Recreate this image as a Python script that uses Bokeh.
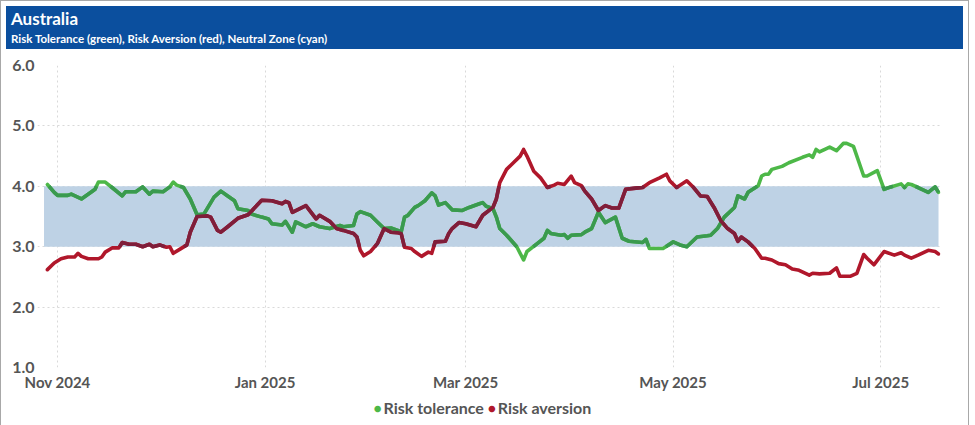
import numpy as np
from bokeh.plotting import figure
from bokeh.layouts import column
from bokeh.models import Range1d, FixedTicker, Div
from bokeh.embed import file_html
from bokeh.resources import INLINE

TITLE = "Australia"
SUBTITLE = "Risk Tolerance (green), Risk Aversion (red), Neutral Zone (cyan)"

tolerance_dates = [
    "2024-10-29", "2024-10-31", "2024-11-01", "2024-11-04", "2024-11-05", "2024-11-08",
    "2024-11-11", "2024-11-12", "2024-11-13", "2024-11-15", "2024-11-17", "2024-11-20",
    "2024-11-21", "2024-11-24", "2024-11-26", "2024-11-28", "2024-11-29", "2024-12-02",
    "2024-12-04", "2024-12-05", "2024-12-06", "2024-12-08", "2024-12-10", "2024-12-12",
    "2024-12-14", "2024-12-17", "2024-12-19", "2024-12-21", "2024-12-23", "2024-12-24",
    "2024-12-27", "2024-12-28", "2024-12-31", "2025-01-02", "2025-01-03", "2025-01-06",
    "2025-01-07", "2025-01-09", "2025-01-10", "2025-01-13", "2025-01-15", "2025-01-17",
    "2025-01-20", "2025-01-23", "2025-01-24", "2025-01-27", "2025-01-28", "2025-01-29",
    "2025-02-01", "2025-02-03", "2025-02-05", "2025-02-07", "2025-02-09", "2025-02-10",
    "2025-02-11", "2025-02-12", "2025-02-14", "2025-02-15", "2025-02-17", "2025-02-19",
    "2025-02-20", "2025-02-21", "2025-02-23", "2025-02-25", "2025-02-28", "2025-03-02",
    "2025-03-05", "2025-03-06", "2025-03-07", "2025-03-09", "2025-03-10", "2025-03-11",
    "2025-03-13", "2025-03-16", "2025-03-18", "2025-03-19", "2025-03-22", "2025-03-24",
    "2025-03-25", "2025-03-26", "2025-03-29", "2025-03-30", "2025-03-31", "2025-04-01",
    "2025-04-04", "2025-04-05", "2025-04-07", "2025-04-09", "2025-04-11", "2025-04-14",
    "2025-04-16", "2025-04-18", "2025-04-22", "2025-04-23", "2025-04-24", "2025-04-28",
    "2025-05-01", "2025-05-03", "2025-05-05", "2025-05-08", "2025-05-11", "2025-05-12",
    "2025-05-14", "2025-05-16", "2025-05-19", "2025-05-20", "2025-05-22", "2025-05-23",
    "2025-05-26", "2025-05-27", "2025-05-28", "2025-05-29", "2025-05-30", "2025-06-02",
    "2025-06-04", "2025-06-08", "2025-06-10", "2025-06-11", "2025-06-12", "2025-06-13",
    "2025-06-16", "2025-06-18", "2025-06-20", "2025-06-21", "2025-06-23", "2025-06-26",
    "2025-06-27", "2025-06-30", "2025-07-02", "2025-07-04", "2025-07-07", "2025-07-08",
    "2025-07-09", "2025-07-10", "2025-07-12", "2025-07-15", "2025-07-17", "2025-07-18",
]
tolerance_values = [
    4.03, 3.90, 3.85, 3.85, 3.87, 3.79,
    3.91, 3.95, 4.07, 4.07, 3.98, 3.84,
    3.91, 3.91, 3.99, 3.87, 3.92, 3.91,
    3.99, 4.07, 4.02, 3.98, 3.79, 3.53,
    3.54, 3.82, 3.92, 3.84, 3.76, 3.63,
    3.60, 3.54, 3.49, 3.46, 3.38, 3.36,
    3.42, 3.24, 3.41, 3.33, 3.38, 3.33,
    3.30, 3.35, 3.33, 3.35, 3.54, 3.58,
    3.52, 3.41, 3.30, 3.31, 3.27, 3.24,
    3.49, 3.52, 3.65, 3.68, 3.76, 3.89,
    3.84, 3.69, 3.73, 3.61, 3.60, 3.65,
    3.71, 3.73, 3.67, 3.63, 3.49, 3.30,
    3.19, 3.00, 2.78, 2.92, 3.05, 3.14,
    3.27, 3.22, 3.19, 3.20, 3.14, 3.19,
    3.20, 3.24, 3.30, 3.57, 3.40, 3.49,
    3.14, 3.09, 3.07, 3.12, 2.97, 2.97,
    3.08, 3.03, 3.00, 3.16, 3.18, 3.19,
    3.30, 3.49, 3.65, 3.84, 3.79, 3.90,
    4.01, 4.17, 4.20, 4.20, 4.28, 4.33,
    4.39, 4.48, 4.52, 4.48, 4.61, 4.57,
    4.65, 4.59, 4.71, 4.71, 4.66, 4.17,
    4.17, 4.26, 3.95, 3.99, 4.04, 3.98,
    4.04, 4.03, 3.98, 3.90, 3.99, 3.90,
]

aversion_dates = [
    "2024-10-29", "2024-10-31", "2024-11-02", "2024-11-04", "2024-11-06", "2024-11-07",
    "2024-11-08", "2024-11-10", "2024-11-13", "2024-11-14", "2024-11-15", "2024-11-17",
    "2024-11-19", "2024-11-20", "2024-11-22", "2024-11-24", "2024-11-26", "2024-11-28",
    "2024-11-29", "2024-12-01", "2024-12-03", "2024-12-04", "2024-12-05", "2024-12-07",
    "2024-12-09", "2024-12-10", "2024-12-12", "2024-12-15", "2024-12-16", "2024-12-18",
    "2024-12-19", "2024-12-21", "2024-12-24", "2024-12-27", "2024-12-29", "2024-12-31",
    "2025-01-03", "2025-01-06", "2025-01-07", "2025-01-08", "2025-01-09", "2025-01-13",
    "2025-01-16", "2025-01-17", "2025-01-20", "2025-01-22", "2025-01-24", "2025-01-27",
    "2025-01-28", "2025-01-29", "2025-01-30", "2025-02-01", "2025-02-03", "2025-02-05",
    "2025-02-07", "2025-02-09", "2025-02-10", "2025-02-11", "2025-02-13", "2025-02-14",
    "2025-02-16", "2025-02-18", "2025-02-19", "2025-02-20", "2025-02-23", "2025-02-24",
    "2025-02-25", "2025-02-27", "2025-03-01", "2025-03-04", "2025-03-06", "2025-03-09",
    "2025-03-10", "2025-03-11", "2025-03-13", "2025-03-15", "2025-03-17", "2025-03-18",
    "2025-03-19", "2025-03-21", "2025-03-23", "2025-03-25", "2025-03-27", "2025-03-28",
    "2025-03-30", "2025-04-01", "2025-04-02", "2025-04-04", "2025-04-05", "2025-04-07",
    "2025-04-09", "2025-04-11", "2025-04-13", "2025-04-15", "2025-04-17", "2025-04-20",
    "2025-04-22", "2025-04-24", "2025-04-27", "2025-04-29", "2025-04-30", "2025-05-02",
    "2025-05-05", "2025-05-07", "2025-05-09", "2025-05-11", "2025-05-13", "2025-05-15",
    "2025-05-17", "2025-05-19", "2025-05-20", "2025-05-21", "2025-05-23", "2025-05-25",
    "2025-05-27", "2025-05-28", "2025-05-30", "2025-06-01", "2025-06-03", "2025-06-05",
    "2025-06-07", "2025-06-10", "2025-06-11", "2025-06-13", "2025-06-16", "2025-06-18",
    "2025-06-19", "2025-06-22", "2025-06-24", "2025-06-26", "2025-06-27", "2025-06-29",
    "2025-07-02", "2025-07-05", "2025-07-07", "2025-07-08", "2025-07-10", "2025-07-12",
    "2025-07-15", "2025-07-17", "2025-07-18",
]
aversion_values = [
    2.62, 2.73, 2.80, 2.83, 2.83, 2.89,
    2.84, 2.80, 2.80, 2.83, 2.91, 2.98,
    2.98, 3.07, 3.04, 3.04, 3.00, 3.04,
    3.00, 3.03, 2.99, 3.00, 2.89, 2.96,
    3.03, 3.24, 3.50, 3.51, 3.49, 3.27,
    3.24, 3.33, 3.47, 3.53, 3.65, 3.77,
    3.76, 3.71, 3.75, 3.73, 3.57, 3.68,
    3.46, 3.52, 3.42, 3.30, 3.27, 3.22,
    3.16, 2.94, 2.85, 2.92, 3.05, 3.30,
    3.24, 3.23, 3.22, 2.99, 2.97, 2.92,
    2.84, 2.91, 2.89, 3.08, 3.09, 3.22,
    3.30, 3.40, 3.38, 3.33, 3.52, 3.65,
    3.79, 4.06, 4.28, 4.39, 4.50, 4.61,
    4.50, 4.25, 4.14, 3.98, 4.02, 4.05,
    4.03, 4.17, 4.06, 4.01, 3.92, 3.79,
    3.60, 3.68, 3.64, 3.64, 3.95, 3.97,
    3.98, 4.06, 4.14, 4.20, 4.09, 3.98,
    4.09, 3.98, 3.84, 3.83, 3.65, 3.43,
    3.30, 3.22, 3.09, 3.16, 3.08, 2.97,
    2.81, 2.81, 2.78, 2.72, 2.70, 2.63,
    2.61, 2.53, 2.56, 2.55, 2.56, 2.65,
    2.51, 2.51, 2.56, 2.87, 2.81, 2.70,
    2.92, 2.86, 2.90, 2.86, 2.81, 2.86,
    2.94, 2.92, 2.88,
]

neutral_low = 3.0
neutral_high = 4.0
neutral_dates = ["2024-10-28", "2025-07-18"]

x_tick_dates = ["2024-11-01", "2025-01-01", "2025-03-01", "2025-05-01", "2025-07-01"]
x_tick_labels = ["Nov 2024", "Jan 2025", "Mar 2025", "May 2025", "Jul 2025"]
y_ticks = [1, 2, 3, 4, 5, 6]
y_tick_labels = ["1.0", "2.0", "3.0", "4.0", "5.0", "6.0"]
x_window = ["2024-10-26T02:00", "2025-07-18T14:00"]

series_labels = ["Risk tolerance", "Risk aversion"]

GREEN = "#4db848"
GREEN_IN = "#3a9a4f"
RED = "#b0172b"
RED_IN = "#7f1e3a"
BAND = "#bed2e5"
HEADER = "#0b4f9e"
FONT = "Lato"
TEXT_GREY = "#555555"


def to_ms(dates):
    return np.array(dates, dtype="datetime64[ms]").astype("int64").astype(float)


def inside_band(xs, ys, lo, hi):
    out_x, out_y = [], []
    cx, cy = [], []
    for i in range(len(xs) - 1):
        x0, y0, x1, y1 = xs[i], ys[i], xs[i + 1], ys[i + 1]
        if y1 == y0:
            t0, t1 = (0.0, 1.0) if lo <= y0 <= hi else (1.0, 0.0)
        else:
            ta = (lo - y0) / (y1 - y0)
            tb = (hi - y0) / (y1 - y0)
            t0 = max(0.0, min(ta, tb))
            t1 = min(1.0, max(ta, tb))
        if t0 < t1:
            ax, ay = x0 + (x1 - x0) * t0, y0 + (y1 - y0) * t0
            bx, by = x0 + (x1 - x0) * t1, y0 + (y1 - y0) * t1
            if not cx or t0 > 0:
                if cx:
                    out_x.append(cx)
                    out_y.append(cy)
                cx, cy = [ax], [ay]
            cx.append(bx)
            cy.append(by)
            if t1 < 1.0:
                out_x.append(cx)
                out_y.append(cy)
                cx, cy = [], []
        else:
            if cx:
                out_x.append(cx)
                out_y.append(cy)
                cx, cy = [], []
    if cx:
        out_x.append(cx)
        out_y.append(cy)
    return out_x, out_y


W = 957

# ---------- header ----------
header = Div(
    text=(f"<div style='font-family:{FONT};font-weight:bold;font-size:17px;line-height:19px'>{TITLE}</div>"
          f"<div style='font-family:{FONT};font-weight:bold;font-size:11.5px;line-height:13px;margin-top:4px'>{SUBTITLE}</div>"),
    width=W, height=43,
    styles={"background-color": HEADER, "color": "white", "padding": "3px 5px",
            "box-sizing": "border-box"})

# ---------- main chart ----------
xw = to_ms(x_window)
p = figure(frame_width=903, frame_height=302, x_range=Range1d(xw[0], xw[1]), y_range=Range1d(1, 6),
           output_backend="svg", toolbar_location=None,
           min_border_left=36, min_border_right=18, min_border_top=11, min_border_bottom=0,
           outline_line_color=None, background_fill_color="white", border_fill_color="white")

nd = to_ms(neutral_dates)
p.quad(left=[nd[0]], right=[nd[1]], bottom=[neutral_low], top=[neutral_high],
       fill_color=BAND, line_color=None)

tx = to_ms(tolerance_dates)
ax_ = to_ms(aversion_dates)
p.line(tx, tolerance_values, line_color=GREEN, line_width=3.6, line_join="round", line_cap="round")
p.line(ax_, aversion_values, line_color=RED, line_width=3.6, line_join="round", line_cap="round")

gx, gy = inside_band(list(tx), tolerance_values, neutral_low, neutral_high)
rx, ry = inside_band(list(ax_), aversion_values, neutral_low, neutral_high)
p.multi_line(gx, gy, line_color=GREEN_IN, line_width=3.6, line_join="round", line_cap="butt")
p.multi_line(rx, ry, line_color=RED_IN, line_width=3.6, line_join="round", line_cap="butt")

# axes
xt = to_ms(x_tick_dates)
p.xaxis.ticker = FixedTicker(ticks=list(xt))
p.xaxis.major_label_overrides = {float(t): lab for t, lab in zip(xt, x_tick_labels)}
p.yaxis.ticker = FixedTicker(ticks=y_ticks)
p.yaxis.major_label_overrides = {t: lab for t, lab in zip(y_ticks, y_tick_labels)}
for ax in (p.xaxis, p.yaxis):
    ax.axis_line_color = None
    ax.major_tick_line_color = None
    ax.minor_tick_line_color = None
    ax.major_tick_out = 0
    ax.major_tick_in = 0
    ax.minor_tick_out = 0
    ax.minor_tick_in = 0
    ax.major_label_text_font = FONT
    ax.major_label_text_font_style = "bold"
    ax.major_label_text_color = TEXT_GREY
p.xaxis.major_label_text_font_size = "15px"
p.yaxis.major_label_text_font_size = "16px"
p.xaxis.major_label_standoff = 5
p.yaxis.major_label_standoff = 3

p.xgrid.grid_line_color = "#d9d9d9"
p.xgrid.grid_line_dash = "2 3"
p.ygrid.grid_line_color = "#d9d9d9"
p.ygrid.grid_line_dash = "2 3"
p.ygrid.ticker = FixedTicker(ticks=y_ticks)
p.xgrid.ticker = FixedTicker(ticks=list(xt))

# ---------- legend ----------
legend_html = "".join(
    f"<span style='color:{c};font-size:13px;vertical-align:1px'>&#9679;</span>"
    f"<span style='margin:0 4px 0 2px'>{lab}</span>"
    for c, lab in zip([GREEN, RED], series_labels))
legend = Div(text=legend_html, width=W, height=24,
             styles={"text-align": "center", "font-family": FONT, "font-weight": "bold",
                     "font-size": "16px", "color": TEXT_GREY, "line-height": "20px",
                     "background-color": "white", "box-sizing": "border-box",
                     "padding-top": "0px"})

layout = column(header, p, legend, spacing=0, styles={"border": "1px solid #a8a8a8"})

open("out.html", "w").write(file_html(layout, INLINE))
